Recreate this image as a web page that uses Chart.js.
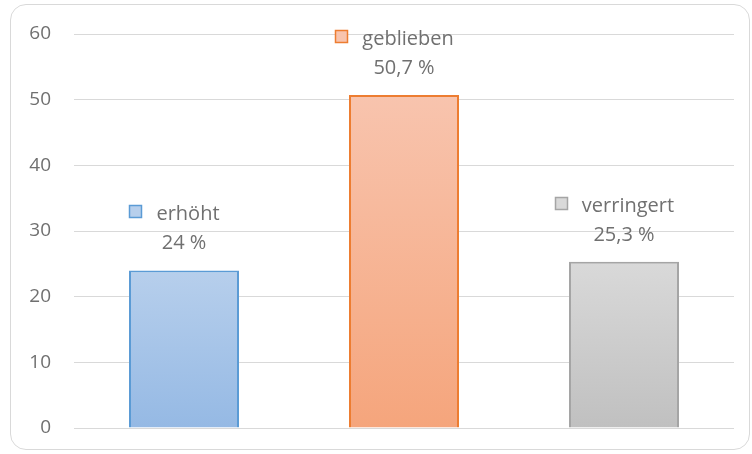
<!DOCTYPE html>
<html>
<head>
<meta charset="utf-8">
<script src="https://cdn.jsdelivr.net/npm/chart.js@4"></script>
<style>
    body { margin: 0; background: #fff; }
    #wrap { position: relative; width: 752px; height: 454px; }
    #chart { position: absolute; left: 0; top: 0; }
    #frame {
        position: absolute; left: 10px; top: 4px; width: 738px; height: 444px;
        border: 1px solid #d9d9d9; border-radius: 16px; pointer-events: none;
    }
</style>
</head>
<body>
<div id="wrap">
    <canvas id="chart" width="752" height="454"></canvas>
    <div id="frame"></div>
</div>
<script>
// --- DATEN ---
const categories = ['erhöht', 'geblieben', 'verringert'];
const values = [24, 50.7, 25.3];
const valueLabels = ['24 %', '50,7 %', '25,3 %'];
const yTicks = [0, 10, 20, 30, 40, 50, 60];

// --- FARBEN ---
const gradTop = ['#b7cfec', '#f8c4ae', '#d9d9d9'];
const gradBottom = ['#95b9e4', '#f5a57c', '#c0c0c0'];
const borders = ['#5b9bd5', '#ed7d31', '#a5a5a5'];

const FONT = '"Open Sans", "Liberation Sans", sans-serif';
const TEXT = '#707070';

function barFill(ctx) {
    const chart = ctx.chart;
    const i = ctx.dataIndex;
    if (!chart.chartArea || !chart.scales.y) return gradBottom[i];
    const y = chart.scales.y;
    const top = y.getPixelForValue(values[i]);
    const bottom = y.getPixelForValue(0);
    const g = chart.ctx.createLinearGradient(0, top, 0, bottom);
    g.addColorStop(0, gradTop[i]);
    g.addColorStop(1, gradBottom[i]);
    return g;
}

// Beschriftung über den Balken: Legendensymbol + Name, darunter der Wert
const barLabels = {
    id: 'barLabels',
    afterDatasetsDraw(chart) {
        const ctx = chart.ctx;
        const meta = chart.getDatasetMeta(0);
        ctx.save();
        ctx.font = '20px ' + FONT;
        ctx.fillStyle = TEXT;
        ctx.textBaseline = 'alphabetic';
        meta.data.forEach((bar, i) => {
            const cx = bar.x + 4;
            ctx.textAlign = 'center';
            ctx.fillText(valueLabels[i], bar.x, bar.y - 21);
            ctx.fillText(categories[i], cx, bar.y - 50);
            const w = ctx.measureText(categories[i]).width;
            const kx = Math.round(cx - w / 2 - 27) + 0.5;
            const ky = Math.round(bar.y - 65) + 0.5;
            ctx.fillStyle = gradTop[i];
            ctx.fillRect(kx, ky, 12, 12);
            ctx.strokeStyle = borders[i];
            ctx.lineWidth = 1.5;
            ctx.strokeRect(kx, ky, 12, 12);
            ctx.fillStyle = TEXT;
        });
        ctx.restore();
    }
};

new Chart(document.getElementById('chart'), {
    type: 'bar',
    data: {
        labels: categories,
        datasets: [{
            data: values,
            backgroundColor: barFill,
            borderColor: borders,
            borderWidth: 2,
            categoryPercentage: 1,
            barPercentage: 0.5
        }]
    },
    plugins: [barLabels],
    options: {
        responsive: false,
        animation: false,
        layout: { padding: { left: 0, top: 34, right: 18, bottom: 26 } },
        plugins: { legend: { display: false }, tooltip: { enabled: false } },
        scales: {
            x: { display: false },
            y: {
                min: 0,
                max: 60,
                afterBuildTicks: s => { s.ticks = yTicks.map(v => ({ value: v })); },
                afterFit: s => {
                    s.width = 74;
                    s.paddingTop = 0;
                    s.paddingBottom = 0;
                },
                ticks: {
                    padding: 23,
                    color: TEXT,
                    font: { family: FONT, size: 19 }
                },
                grid: { color: '#d9d9d9', lineWidth: 1, drawTicks: false },
                border: { display: false }
            }
        }
    }
});
</script>
</body>
</html>
